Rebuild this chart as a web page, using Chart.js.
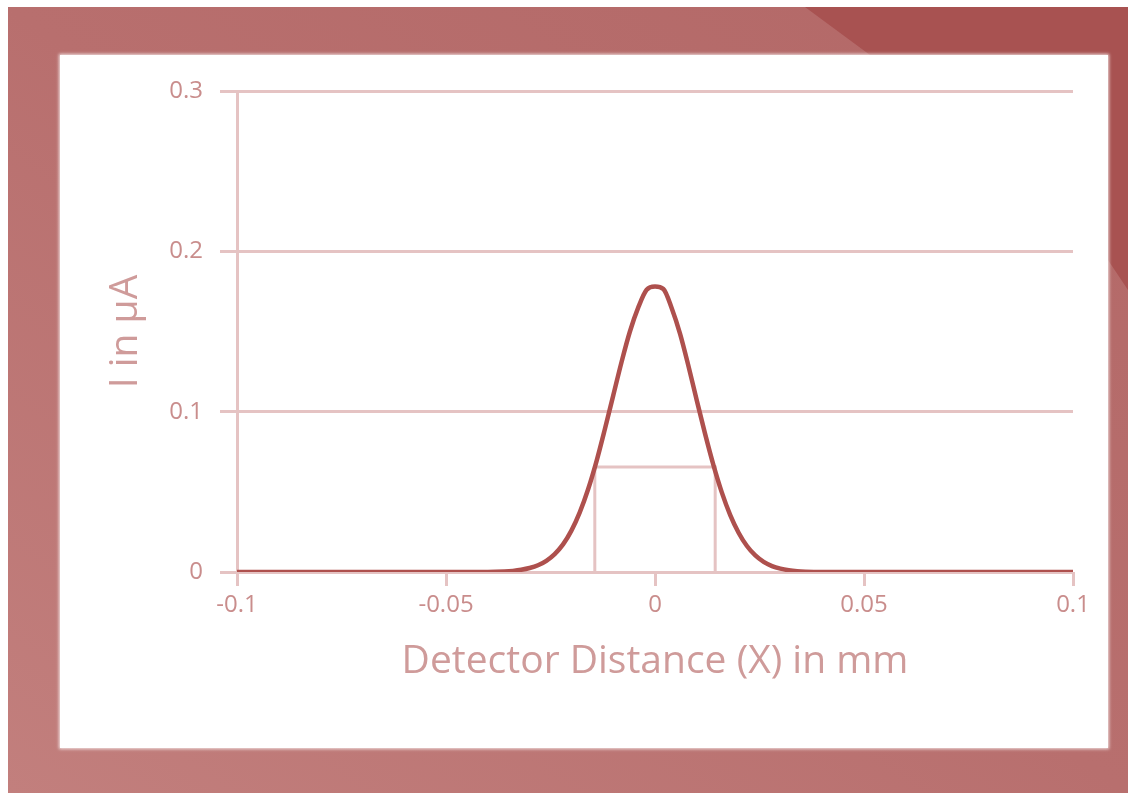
<!DOCTYPE html>
<html>
<head>
<meta charset="utf-8">
<script src="https://cdn.jsdelivr.net/npm/chart.js@4"></script>
<style>
  html, body { margin: 0; padding: 0; background: #fff; }
  body { width: 1128px; height: 793px; position: relative; overflow: hidden; }
  #frame {
    position: absolute; left: 8px; top: 7px; right: 0; bottom: 0;
    background: linear-gradient(to top right, #c27f7d 0%, #b86f6e 50%, #b36867 100%);
  }
  #corner {
    position: absolute; left: 8px; top: 7px; right: 0; bottom: 0;
    background: #a85251;
    clip-path: polygon(797px 0, 1120px 0, 1120px 283px, 1100px 253px, 862px 48px);
  }
  #panel {
    position: absolute; left: 60px; top: 55px; width: 1048px; height: 693px;
    background: #fff;
    box-shadow: 0 0 3px 1px rgba(255,255,255,0.8);
  }
</style>
</head>
<body>
<div id="frame"></div>
<div id="corner"></div>
<div id="panel"><canvas id="chart" width="1048" height="693"></canvas></div>
<script>
// detector distance (mm) and current (µA)
const xValues = [-0.1, -0.04, -0.036, -0.034, -0.032, -0.03, -0.028, -0.026, -0.024, -0.022, -0.02, -0.018, -0.016, -0.014, -0.012, -0.01, -0.008, -0.006, -0.004, -0.002, 0,
  0.002, 0.004, 0.006, 0.008, 0.01, 0.012, 0.014, 0.016, 0.018, 0.02, 0.022, 0.024, 0.026, 0.028, 0.03, 0.032, 0.034, 0.036, 0.04, 0.1]
const iValues = [0, 0, 0.0003, 0.0007, 0.0014, 0.0025, 0.0042, 0.0070, 0.0112, 0.0172, 0.0258, 0.0372, 0.0516, 0.0690, 0.0890, 0.1100, 0.1310, 0.1500, 0.1650, 0.1760, 0.1780,
  0.1765, 0.1645, 0.1485, 0.1285, 0.1070, 0.0860, 0.0665, 0.0495, 0.0355, 0.0245, 0.0162, 0.0103, 0.0063, 0.0037, 0.0021, 0.0011, 0.0005, 0.0002, 0, 0]

// width marker box
const boxX = [-0.0144, -0.0144, 0.0144, 0.0144]
const boxY = [0, 0.0655, 0.0655, 0]

const xTicks = [-0.1, -0.05, 0, 0.05, 0.1]
const xTickLabels = ['-0.1', '-0.05', '0', '0.05', '0.1']
const yTicks = [0, 0.1, 0.2, 0.3]
const yTickLabels = ['0', '0.1', '0.2', '0.3']

const gridColor = '#e5c3c3'
const textColor = '#c98d8c'
const fontFamily = "'Open Sans', 'DejaVu Sans', sans-serif"

let curve = xValues.map((x, i) => ({x: x, y: iValues[i]}))
let box = boxX.map((x, i) => ({x: x, y: boxY[i]}))

new Chart(document.getElementById('chart'), {
  type: 'line',
  data: {
    datasets: [
      {
        data: curve,
        borderColor: '#ae504d',
        borderWidth: 4.5,
        pointRadius: 0,
        cubicInterpolationMode: 'monotone',
        order: 0
      },
      {
        data: box,
        borderColor: gridColor,
        borderWidth: 3,
        pointRadius: 0,
        tension: 0,
        order: 1
      }
    ]
  },
  options: {
    responsive: false,
    animation: false,
    events: [],
    layout: { padding: { top: 36, right: 35, left: 0, bottom: 0 } },
    plugins: { legend: { display: false }, tooltip: { enabled: false } },
    scales: {
      x: {
        type: 'linear',
        min: -0.1,
        max: 0.1,
        afterBuildTicks: (scale) => { scale.ticks = xTicks.map(v => ({value: v})) },
        afterFit: (scale) => { scale.height = 176 },
        border: { display: false },
        grid: { drawOnChartArea: false, drawTicks: true, tickLength: 14, color: gridColor, lineWidth: 3 },
        ticks: {
          color: textColor, font: { family: fontFamily, size: 24 }, padding: 5, maxRotation: 0,
          callback: (v, i) => xTickLabels[i]
        },
        title: {
          display: true,
          text: 'Detector Distance (X) in mm',
          color: '#cf9b9a',
          font: { family: fontFamily, size: 39 },
          padding: { top: 0, bottom: 63 }
        }
      },
      y: {
        type: 'linear',
        min: 0,
        max: 0.3,
        afterBuildTicks: (scale) => { scale.ticks = yTicks.map(v => ({value: v})) },
        afterFit: (scale) => { scale.width = 177 },
        border: { display: true, color: gridColor, width: 3 },
        grid: { color: gridColor, lineWidth: 3, tickLength: 17 },
        ticks: {
          color: textColor, font: { family: fontFamily, size: 24 }, padding: 17,
          callback: (v, i) => yTickLabels[i]
        },
        title: {
          display: true,
          text: 'I in µA',
          color: '#cf9b9a',
          font: { family: fontFamily, size: 39 },
          padding: { top: 42, bottom: 0 }
        }
      }
    }
  }
})
</script>
</body>
</html>
